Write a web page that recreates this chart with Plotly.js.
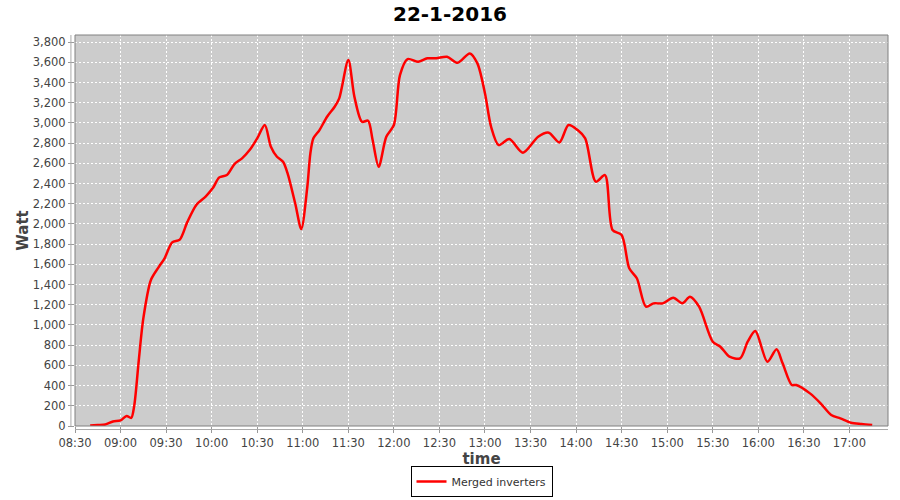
<!DOCTYPE html>
<html>
<head>
<meta charset="utf-8">
<script src="https://cdn.plot.ly/plotly-3.0.1.min.js"></script>
<style>html,body{margin:0;padding:0;background:#fff;}#chart{width:900px;height:500px;}</style>
</head>
<body>
<div id="chart"></div>
<script>
const DAY = "2016-01-22";
const times = ["08:40","08:45","08:50","08:55","09:00","09:04","09:07","09:09","09:12","09:15","09:20","09:25","09:29","09:34","09:39","09:44","09:50","09:56","10:01","10:05","10:10","10:15","10:20","10:25","10:30","10:35","10:39","10:43","10:47","10:50","10:55","10:59","11:03","11:05","11:07","11:11","11:16","11:21","11:24","11:30","11:34","11:39","11:43","11:46","11:50","11:55","12:00","12:04","12:09","12:16","12:22","12:28","12:35","12:42","12:50","12:55","13:00","13:04","13:09","13:16","13:25","13:35","13:42","13:49","13:55","14:01","14:06","14:13","14:19","14:24","14:30","14:35","14:40","14:46","14:51","14:57","15:04","15:10","15:15","15:21","15:30","15:35","15:41","15:48","15:53","15:58","16:06","16:12","16:16","16:22","16:25","16:34","16:41","16:48","16:54","17:01","17:08","17:15"];
const watts = [5,10,15,45,55,100,80,200,650,1065,1445,1570,1660,1818,1845,2020,2190,2270,2360,2461,2484,2593,2649,2731,2847,2979,2764,2665,2616,2501,2204,1950,2368,2699,2847,2929,3061,3160,3243,3622,3259,3011,3022,2830,2566,2863,2979,3473,3632,3605,3639,3639,3655,3595,3688,3589,3292,2962,2781,2840,2705,2863,2903,2807,2979,2929,2847,2418,2484,1940,1890,1561,1462,1181,1214,1214,1270,1214,1280,1181,834,785,686,670,834,940,636,759,620,406,406,323,225,109,76,33,20,10];
const seriesName = "Merged inverters";
const chartTitle = "22-1-2016";
const xTitle = "time";
const yTitle = "Watt";

const xs = times.map(t => DAY + " " + t);

const trace = {
  x: xs, y: watts, type: "scatter", mode: "lines", name: seriesName,
  line: {color: "#ff0000", width: 2.5, shape: "spline", smoothing: 0.8},
  showlegend: true
};

const font = {family: "DejaVu Sans, Verdana, sans-serif", color: "#444444", size: 11};

const layout = {
  width: 900, height: 500,
  margin: {l: 75, r: 12, t: 35, b: 74, pad: 0, autoexpand: false},
  paper_bgcolor: "#ffffff",
  plot_bgcolor: "#cccccc",
  font: font,
  title: {text: chartTitle, font: {family: "DejaVu Sans, sans-serif", size: 20, color: "#000000", weight: "bold"},
          x: 0.5, xanchor: "center", xref: "container", y: 0.972, yanchor: "middle", yref: "container"},
  xaxis: {
    type: "date",
    automargin: false,
    range: [DAY + " 08:30", DAY + " 17:25:24"],
    tickformat: "%H:%M",
    dtick: 1800000,
    tick0: DAY + " 08:30",
    showgrid: true, gridcolor: "#ffffff", gridwidth: 1, griddash: "2px,2px",
    zeroline: false, showline: false,
    ticks: "outside", ticklen: 6, tickcolor: "#999999",
    tickfont: {size: 11.5, color: "#444444"},
    title: {text: xTitle, font: {size: 15, color: "#444444", weight: "bold"}, standoff: 4},
    fixedrange: true
  },
  yaxis: {
    automargin: false,
    range: [0, 3870],
    dtick: 200, tick0: 0,
    tickformat: ",d",
    showgrid: true, gridcolor: "#ffffff", gridwidth: 1, griddash: "2px,2px",
    zeroline: false, showline: false,
    ticks: "outside", ticklen: 6, tickcolor: "#999999",
    tickfont: {size: 11.5, color: "#444444"},
    title: {text: yTitle, font: {size: 15, color: "#444444", weight: "bold"}, standoff: 0},
    fixedrange: true
  },
  legend: {
    orientation: "h", x: 0.5, xanchor: "center", y: -0.1816, yanchor: "bottom",
    bordercolor: "#000000", borderwidth: 1, bgcolor: "#ffffff",
    font: {size: 11, color: "#333333"},
    itemwidth: 30
  },
  shapes: [
    {type: "rect", xref: "paper", yref: "paper", x0: 0, x1: 1, y0: 0, y1: 1,
     line: {color: "#808080", width: 1}, fillcolor: "rgba(0,0,0,0)", layer: "above"},
    {type: "line", xref: "paper", yref: "paper", x0: -0.005, x1: -0.005, y0: 0, y1: 1,
     line: {color: "#aaaaaa", width: 1}},
    {type: "line", xref: "paper", yref: "paper", x0: 0, x1: 1, y0: -0.009, y1: -0.009,
     line: {color: "#aaaaaa", width: 1}}
  ]
};

Plotly.newPlot("chart", [trace], layout, {displayModeBar: false, staticPlot: true});
</script>
</body>
</html>
